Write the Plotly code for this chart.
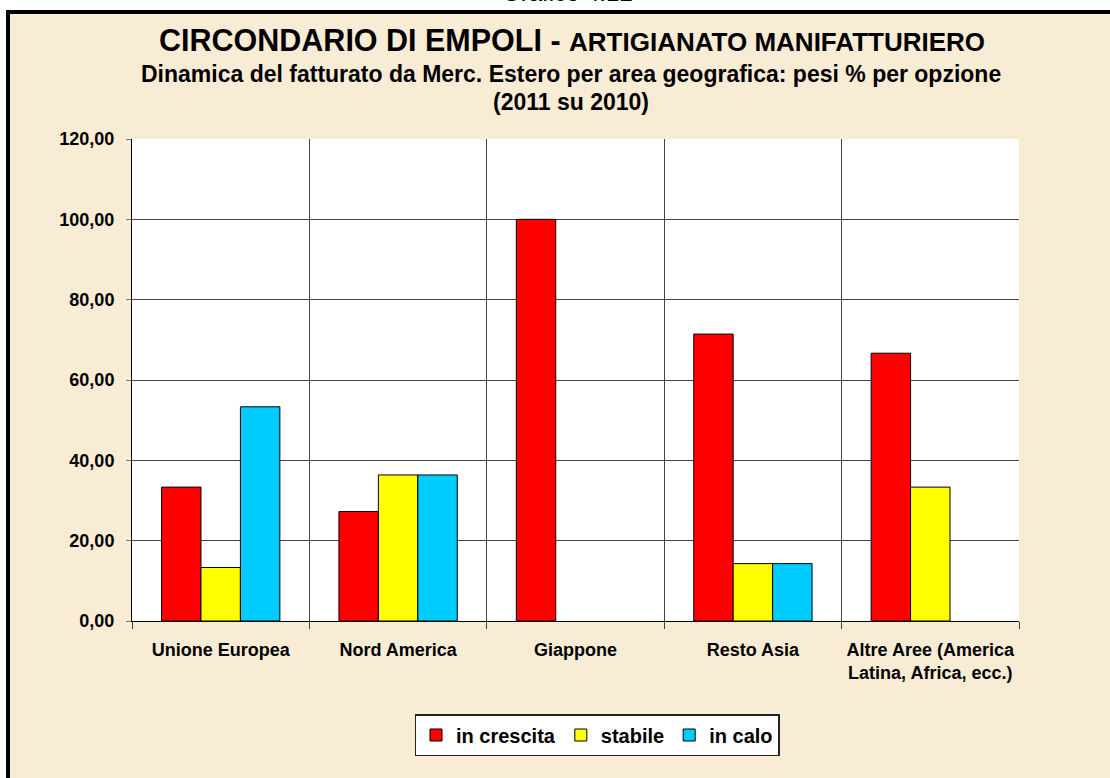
import plotly.graph_objects as go

# Aree geografiche (etichette dell'asse x)
aree = [
    "Unione Europea",
    "Nord America",
    "Giappone",
    "Resto Asia",
    "Altre Aree (America<br>Latina, Africa, ecc.)",
]

# Pesi % per opzione (2011 su 2010)
in_crescita = [33.33, 27.27, 100.00, 71.43, 66.67]
stabile = [13.33, 36.36, 0.00, 14.29, 33.33]
in_calo = [53.33, 36.36, 0.00, 14.29, 0.00]

serie = [
    ("in crescita", in_crescita, "#FF0000"),
    ("stabile", stabile, "#FFFF00"),
    ("in calo", in_calo, "#00CCFF"),
]

FONT = "Arial, Liberation Sans, sans-serif"
W, H = 1110, 778
L, R, T, B = 132, 1019, 139, 621  # plot area in pixels


def px_x(p):
    return (p - L) / (R - L)


def px_y(p):
    return (B - p) / (B - T)


fig = go.Figure()
for nome, valori, colore in serie:
    # no outline on empty bars
    bordi = [1 if v > 0 else 0 for v in valori]
    fig.add_trace(go.Bar(
        name=nome, x=aree, y=valori,
        marker=dict(color=colore, line=dict(color="#000000", width=bordi)),
    ))

fig.update_layout(
    width=W, height=H,
    margin=dict(l=L, r=W - R, t=T, b=H - B, pad=0),
    paper_bgcolor="#F8EDD4",
    plot_bgcolor="#FFFFFF",
    barmode="group", bargap=0.333, bargroupgap=0,
    separators=",.",
    font=dict(family=FONT, size=18, color="#000000"),
    showlegend=True,
    legend=dict(
        orientation="h", x=px_x(597), xanchor="center",
        y=px_y(735), yanchor="middle",
        bgcolor="#FFFFFF", bordercolor="#222222", borderwidth=1.5,
        font=dict(family=FONT, size=20, color="#000000", weight="bold"),
        itemwidth=30, tracegroupgap=0,
    ),
)

fig.update_xaxes(
    type="category", tickson="boundaries",
    showgrid=True, gridcolor="#444444", gridwidth=1,
    showline=True, linecolor="#000000", linewidth=1,
    ticks="outside", ticklen=7, tickcolor="#444444",
    tickfont=dict(family=FONT, size=18, color="#000000", weight="bold"),
    ticklabelstandoff=12,
)
fig.update_yaxes(
    range=[0, 120], dtick=20, tickformat=".2f",
    showgrid=True, gridcolor="#444444", gridwidth=1,
    showline=True, linecolor="#000000", linewidth=1,
    ticks="outside", ticklen=5, tickcolor="#777777",
    tickfont=dict(family=FONT, size=18, color="#000000", weight="bold"),
    ticklabelstandoff=8, zeroline=False,
)

# white band above the frame and on its left, then the black frame
fig.add_shape(type="rect", xref="paper", yref="paper",
              x0=px_x(-20), x1=px_x(W + 20), y0=px_y(10), y1=px_y(-20),
              fillcolor="#FFFFFF", line=dict(width=0), layer="above")
fig.add_shape(type="rect", xref="paper", yref="paper",
              x0=px_x(-20), x1=px_x(6), y0=px_y(-20), y1=px_y(H + 20),
              fillcolor="#FFFFFF", line=dict(width=0), layer="above")
fig.add_shape(type="rect", xref="paper", yref="paper",
              x0=px_x(8), x1=px_x(W + 30), y0=px_y(12), y1=px_y(H + 30),
              line=dict(color="#000000", width=4), layer="above")

fig.add_annotation(text="Grafico 4.12", xref="paper", yref="paper",
                   x=px_x(567), y=px_y(-7), xanchor="center", yanchor="middle",
                   showarrow=False, font=dict(family=FONT, size=24))
fig.add_annotation(
    text="<b>CIRCONDARIO DI EMPOLI - <span style='font-size:26px'>ARTIGIANATO MANIFATTURIERO</span></b>",
    xref="paper", yref="paper", x=px_x(572), y=px_y(40),
    xanchor="center", yanchor="middle", showarrow=False,
    font=dict(family=FONT, size=30.5))
fig.add_annotation(
    text="<b>Dinamica del fatturato da Merc. Estero per area geografica: pesi % per opzione</b>",
    xref="paper", yref="paper", x=px_x(571), y=px_y(74),
    xanchor="center", yanchor="middle", showarrow=False,
    font=dict(family=FONT, size=23))
fig.add_annotation(
    text="<b>(2011 su 2010)</b>",
    xref="paper", yref="paper", x=px_x(571), y=px_y(102),
    xanchor="center", yanchor="middle", showarrow=False,
    font=dict(family=FONT, size=23))

fig.write_html("out.html")
